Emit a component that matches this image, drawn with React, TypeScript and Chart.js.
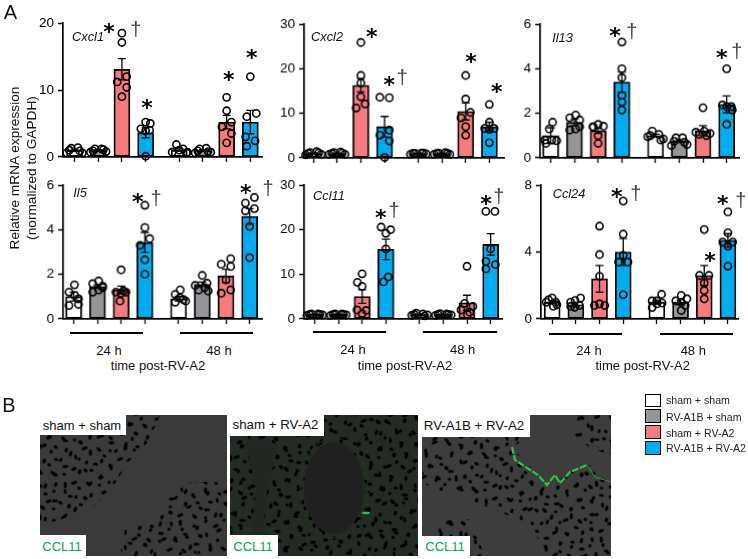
import React, { useEffect, useRef } from "react";
import { Chart, registerables } from "chart.js";

Chart.register(...registerables);

const FONT = "'Liberation Sans', Arial, sans-serif";
const barColors = ["#ffffff", "#939598", "#f47c7e", "#00aeef", "#ffffff", "#939598", "#f47c7e", "#00aeef"];
const barPositions = [0, 1, 2, 3, 4.42, 5.42, 6.42, 7.42];
const swarm = [-0.33, -0.14, 0.14, 0.33, -0.22, 0.22];
const swarmB = [-0.3, 0.3, 0, -0.12, 0.16, 0.34];

const cxcl1Means = [1.0, 1.0, 13.1, 3.6, 1.0, 0.95, 5.2, 5.2];
const cxcl1Errors = [0.15, 0.1, 1.6, 0.75, 0.18, 0.12, 1.0, 1.75];
const cxcl1Points = [
  [0.6, 1.3, 1.4, 0.6, 1.0, 0.9], [0.7, 1.2, 1.2, 0.8, 0.9, 1.1], [18.5, 17.1, 12.0, 11.2, 10.4, 9.0], [5.2, 5.0, 4.2, 4.0, 3.9, 0.1],
  [0.7, 0.6, 1.0, 1.85, 1.2, 0.7], [0.6, 1.2, 1.3, 0.7, 0.9, 0.8], [8.9, 6.9, 5.2, 4.5, 3.5, 2.1], [12.0, 6.5, 6.0, 3.0, 2.4, 1.6],
];
const cxcl1Offsets = [swarm, swarm, [0, 0, 0.2, -0.2, 0.2, 0], [0, 0.2, -0.2, 0.17, 0, 0], swarmB, swarm, [0, 0, 0.2, -0.2, 0.2, 0], [0, 0.25, -0.15, -0.2, 0.2, -0.15]];

const cxcl2Means = [1.0, 1.0, 16.3, 7.0, 1.0, 1.0, 10.4, 6.9];
const cxcl2Errors = [0.12, 0.1, 1.5, 2.3, 0.05, 0.05, 1.9, 1.1];
const cxcl2Points = [
  [0.7, 1.2, 1.4, 0.8, 1.0, 1.1], [0.8, 1.2, 1.3, 0.8, 1.0, 1.1], [25.9, 18.5, 16.8, 13.7, 12.1, 11.2], [13.6, 13.5, 6.2, 5.1, 3.8, 0.1],
  [0.8, 1.0, 1.1, 0.9, 1.0, 1.1], [0.8, 1.1, 1.2, 0.8, 1.0, 1.0], [18.5, 13.2, 10.2, 9.0, 7.0, 5.1], [12.0, 8.0, 6.6, 6.6, 6.4, 3.4],
];
const cxcl2Offsets = [swarm, swarm, [0, 0, 0, 0, 0.18, -0.2], [-0.2, 0.2, 0.2, -0.2, 0.2, 0], swarm, swarm, [0, 0, 0.2, -0.2, 0, 0], [0, 0, -0.2, 0.2, 0, 0]];

const il13Means = [1.0, 1.6, 1.22, 3.4, 1.0, 0.75, 1.22, 2.4];
const il13Errors = [0.35, 0.15, 0.12, 0.45, 0.06, 0.06, 0.23, 0.38];
const il13Points = [
  [1.6, 1.3, 0.65, 0.8, 0.8, 0.77], [1.8, 1.92, 1.7, 1.25, 1.3, 1.4], [1.4, 1.5, 1.42, 1.0, 0.65, 1.38], [5.2, 4.0, 3.6, 2.8, 2.5, 2.15],
  [0.95, 1.2, 1.05, 0.85, 1.0, 0.8], [0.55, 0.9, 0.9, 0.6, 0.75, 0.7], [2.25, 1.15, 1.1, 1.0, 1.05, 1.2], [4.0, 2.37, 2.3, 2.3, 2.15, 1.5],
];
const il13Offsets = [[0.08, -0.06, -0.2, -0.25, 0.05, 0.25], [-0.2, 0.05, 0.22, -0.2, 0.05, 0.22], [-0.22, 0, 0.22, 0, 0, -0.2], [0, 0, 0, 0, 0, 0], swarm, swarm, [0, -0.3, 0.3, 0.15, -0.15, 0.05], [0, -0.18, 0, 0.2, 0.24, 0]];

const il5Means = [1.0, 1.45, 1.3, 3.43, 0.9, 1.55, 1.93, 4.6];
const il5Errors = [0.2, 0.08, 0.17, 0.45, 0.1, 0.1, 0.3, 0.35];
const il5Points = [
  [1.53, 1.2, 1.05, 0.6, 0.65, 0.9], [1.7, 1.58, 1.47, 1.2, 1.3, 1.4], [2.2, 1.2, 1.2, 1.15, 0.8, 1.25], [5.1, 4.1, 3.6, 3.3, 2.65, 2.0],
  [1.3, 1.1, 0.87, 0.75, 0.95, 0.8], [1.95, 1.5, 1.6, 1.3, 1.4, 1.25], [2.7, 2.45, 2.35, 1.75, 1.3, 1.15], [5.45, 5.2, 4.85, 4.95, 4.15, 2.75],
];
const il5Offsets = [[0.03, -0.2, 0.04, -0.2, 0.2, 0.2], [0.05, -0.2, 0.22, -0.2, 0.05, 0.22], [0, -0.22, 0.2, 0, -0.05, 0.1], [0, 0, 0.2, -0.2, 0, 0], [0.07, -0.14, 0.2, -0.14, 0.05, 0.3], [0, -0.3, 0.2, -0.15, 0.1, 0.25], [0.2, -0.2, 0.2, 0, 0.2, -0.2], [0.2, -0.18, -0.18, 0.2, 0, 0]];

const ccl11Means = [1.0, 1.0, 5.0, 15.6, 1.0, 1.0, 3.6, 16.7];
const ccl11Errors = [0.05, 0.05, 1.5, 2.3, 0.1, 0.05, 1.7, 2.4];
const ccl11Points = [
  [0.8, 1.1, 1.1, 0.9, 1.0, 1.0], [0.8, 1.1, 1.1, 0.9, 1.0, 1.0], [10.1, 8.2, 7.3, 2.0, 1.9, 1.2], [20.6, 20.0, 19.2, 15.7, 9.4, 8.3],
  [0.8, 1.3, 1.1, 0.9, 1.0, 0.7], [0.8, 1.2, 1.1, 0.9, 1.0, 1.0], [11.8, 3.5, 2.8, 2.0, 1.5, 1.0], [24.1, 24.1, 15.7, 12.9, 12.2, 11.2],
];
const ccl11Offsets = [swarm, swarm, [0, -0.2, 0, -0.22, 0.17, 0], [-0.2, 0.2, 0, 0, 0.1, -0.1], swarm, swarm, [0, -0.1, 0.25, -0.25, 0.12, 0.02], [-0.2, 0.18, 0, -0.2, 0.2, -0.2]];

const ccl24Means = [1.0, 0.85, 2.4, 4.0, 1.0, 1.0, 2.6, 4.7];
const ccl24Errors = [0.1, 0.14, 0.8, 0.8, 0.1, 0.15, 0.6, 0.4];
const ccl24Points = [
  [1.25, 1.15, 1.0, 1.0, 0.85, 0.75], [1.25, 1.1, 1.0, 0.75, 0.8, 0.7], [5.55, 3.85, 2.55, 0.8, 0.9, 0.8], [7.05, 5.07, 3.8, 3.4, 3.4, 1.45],
  [1.47, 1.08, 1.08, 0.95, 0.68, 0.9], [1.4, 1.2, 1.08, 1.0, 0.8, 0.5], [5.35, 2.6, 2.6, 2.15, 1.7, 1.2], [6.4, 5.15, 4.6, 4.6, 4.35, 3.15],
];
const ccl24Offsets = [[0, -0.15, -0.25, 0.15, 0.2, 0.05], [0.2, -0.03, -0.22, -0.22, 0.15, -0.05], [0, 0, 0, -0.22, 0, 0.22], [0, 0, 0, -0.2, 0.2, 0], [0.2, -0.2, 0, 0.22, -0.2, 0], [0.03, 0.27, -0.2, 0.03, 0.2, 0.03], [0, -0.2, 0.2, 0, 0, 0], [0, 0, -0.22, 0.2, 0, 0]];

const panels = [
  { name: "Cxcl1", ymax: 20, step: 10, axisX: 63, top: 22.7, zero: 156.7, first: 74.7, end: 265, means: cxcl1Means, errors: cxcl1Errors, points: cxcl1Points, offsets: cxcl1Offsets },
  { name: "Cxcl2", ymax: 30, step: 10, axisX: 304.3, top: 24, zero: 157.7, first: 313.7, end: 507, means: cxcl2Means, errors: cxcl2Errors, points: cxcl2Points, offsets: cxcl2Offsets },
  { name: "Il13", ymax: 6, step: 2, axisX: 540, top: 24, zero: 157.7, first: 550.7, end: 741.7, means: il13Means, errors: il13Errors, points: il13Points, offsets: il13Offsets },
  { name: "Il5", ymax: 6, step: 2, axisX: 63.3, top: 185.3, zero: 318.7, first: 74, end: 265, means: il5Means, errors: il5Errors, points: il5Points, offsets: il5Offsets },
  { name: "Ccl11", ymax: 30, step: 10, axisX: 304.3, top: 185.3, zero: 319.3, first: 315, end: 505, means: ccl11Means, errors: ccl11Errors, points: ccl11Points, offsets: ccl11Offsets },
  { name: "Ccl24", ymax: 8, step: 4, axisX: 541, top: 185, zero: 318.7, first: 552.3, end: 741, means: ccl24Means, errors: ccl24Errors, points: ccl24Points, offsets: ccl24Offsets },
];

const geneLabels = [
  ["Cxcl1", 88, 37], ["Cxcl2", 327, 37], ["Il13", 562.5, 38],
  ["Il5", 80, 193], ["Ccl11", 329, 196], ["Ccl24", 569, 194],
] as const;

const stars = [[109, 27], [147, 103], [228.7, 75], [251.7, 53], [371.7, 32], [389.3, 80], [471, 57], [496.7, 87], [615, 31], [721.7, 53], [137.7, 196.7], [245.7, 188], [380.7, 212.7], [486, 199], [616.7, 191.7], [722.7, 199], [710, 256]];
const daggers = [[135.7, 31], [402.3, 79], [631.7, 33], [736.7, 53], [156, 200], [268, 190], [394, 211.7], [498.7, 197.7], [635.7, 195], [740.7, 202]];

const timeBars = [[70, 142.7, 333], [180, 253, 333], [313.3, 386, 332], [423.3, 496.7, 332], [549.3, 622.3, 334], [660, 732.7, 334]];
const timeLabels = [
  ["24 h", 109, 350], ["48 h", 219, 350], ["time post-RV-A2", 158, 365],
  ["24 h", 353, 349], ["48 h", 462.7, 349], ["time post-RV-A2", 405, 364.7],
  ["24 h", 589, 350], ["48 h", 693.3, 350], ["time post-RV-A2", 642.7, 365],
] as const;

const legendItems = [
  ["sham + sham", "#ffffff", 393.5, 400],
  ["RV-A1B + sham", "#939598", 409, 417],
  ["sham + RV-A2", "#f47c7e", 425, 432.7],
  ["RV-A1B + RV-A2", "#00aeef", 441, 448],
] as const;

const errorBars = {
  id: "errorBars",
  afterDatasetsDraw(chart: any, _a: any, opts: any) {
    const { ctx, scales } = chart;
    ctx.save();
    ctx.strokeStyle = "#000";
    ctx.lineWidth = 1.3;
    barPositions.forEach((p, i) => {
      const x = scales.x.getPixelForValue(p);
      const hi = scales.y.getPixelForValue(opts.means[i] + opts.errors[i]);
      const lo = scales.y.getPixelForValue(opts.means[i] - opts.errors[i]);
      ctx.beginPath();
      ctx.moveTo(x, hi); ctx.lineTo(x, lo);
      ctx.moveTo(x - 4, hi); ctx.lineTo(x + 4, hi);
      ctx.moveTo(x - 4, lo); ctx.lineTo(x + 4, lo);
      ctx.stroke();
    });
    ctx.restore();
  },
};

function Panel({ p }: { p: (typeof panels)[number] }) {
  const ref = useRef<HTMLCanvasElement>(null);
  const left = p.axisX - 45;
  const top = p.top - 12;
  const width = p.end + 3 - left;
  const height = p.zero + 12 - top;
  useEffect(() => {
    const scatter: any[] = [];
    p.points.forEach((vals, g) => vals.forEach((v, k) => scatter.push({ x: barPositions[g] + p.offsets[g][k], y: v })));
    const chart = new Chart(ref.current!, {
      type: "bar",
      data: {
        datasets: [
          {
            type: "scatter",
            data: scatter,
            order: 1,
            pointRadius: 3.6,
            pointBorderWidth: 1.6,
            pointBackgroundColor: "rgba(0,0,0,0)",
            pointBorderColor: "#000",
            showLine: false,
            clip: false,
          } as any,
          {
            type: "bar",
            data: p.means.map((m, i) => ({ x: barPositions[i], y: m })),
            order: 2,
            backgroundColor: barColors,
            borderColor: "#000",
            borderWidth: 1.8,
            borderSkipped: false,
            barThickness: 16,
          } as any,
        ],
      },
      options: {
        animation: false,
        responsive: false,
        events: [],
        layout: { padding: { top: p.top - top, right: width - (p.end - left), left: 0, bottom: 0 } },
        plugins: { legend: { display: false }, tooltip: { enabled: false }, errorBars: { means: p.means, errors: p.errors } } as any,
        scales: {
          x: {
            type: "linear",
            offset: false,
            min: (p.axisX - p.first) / 24,
            max: (p.end - p.first) / 24,
            border: { color: "#000", width: 1.7 },
            grid: { display: true, offset: false, drawOnChartArea: false, drawTicks: true, tickLength: 5, tickWidth: 1.3, tickColor: "#000" } as any,
            ticks: { display: false },
            afterBuildTicks: (s: any) => { s.ticks = barPositions.map((v) => ({ value: v })); },
            afterFit: (s: any) => { s.height = height - (p.zero - top); },
          },
          y: {
            type: "linear",
            min: 0,
            max: p.ymax,
            border: { color: "#000", width: 1.7 },
            grid: { display: true, drawOnChartArea: false, drawTicks: true, tickLength: 5, tickWidth: 1.5, tickColor: "#000" } as any,
            ticks: { stepSize: p.step, color: "#000", padding: 4, font: { family: FONT, size: 13.5 } },
            afterFit: (s: any) => { s.width = p.axisX - left; },
          },
        },
      },
      plugins: [errorBars],
    } as any);
    return () => chart.destroy();
  }, []);
  return <canvas ref={ref} width={width} height={height} style={{ position: "absolute", left, top, width, height, display: "block" }} />;
}

function Txt({ x, y, size, children, style, rotate }: any) {
  return (
    <span
      style={{
        position: "absolute", left: x, top: y, fontFamily: FONT, fontSize: size, lineHeight: 1, whiteSpace: "nowrap", color: "#111",
        transform: `translate(-50%,-50%)${rotate ? ` rotate(${rotate}deg)` : ""}`, ...style,
      }}
    >
      {children}
    </span>
  );
}

function Blobs({ id, w, h, angle }: { id: string; w: number; h: number; angle: number }) {
  return (
    <pattern id={id} width={w} height={h} patternUnits="userSpaceOnUse" patternTransform={`rotate(${angle})`}>
      <ellipse cx="4" cy="5" rx="3" ry="1.6" fill="#000" transform="rotate(25 4 5)" />
      <ellipse cx="15" cy="3" rx="1.7" ry="1.4" fill="#000" />
      <ellipse cx="27" cy="8" rx="3.2" ry="1.5" fill="#000" transform="rotate(-40 27 8)" />
      <ellipse cx="10" cy="15" rx="1.6" ry="2.6" fill="#000" />
      <ellipse cx="21" cy="19" rx="2.6" ry="1.4" fill="#000" transform="rotate(60 21 19)" />
      <ellipse cx="33" cy="21" rx="1.6" ry="1.9" fill="#000" />
      <ellipse cx="3" cy="27" rx="2.2" ry="1.5" fill="#000" />
      <ellipse cx="14" cy="31" rx="3" ry="1.5" fill="#000" transform="rotate(-20 14 31)" />
      <ellipse cx="29" cy="32" rx="1.9" ry="2.4" fill="#000" />
    </pattern>
  );
}

function Tissue({ d }: { d: string }) {
  return (
    <>
      <path d={d} fill="url(#cellsA)" />
      <path d={d} fill="url(#cellsB)" />
    </>
  );
}

function Micrographs() {
  return (
    <svg width={748} height={559} style={{ position: "absolute", left: 0, top: 0 }}>
      <defs>
        <Blobs id="cellsA" w={37} h={36} angle={17} />
        <Blobs id="cellsB" w={41} h={38} angle={-52} />
        <filter id="soft"><feGaussianBlur stdDeviation="0.6" /></filter>
      </defs>
      {/* first image */}
      <rect x={40} y={415} width={187} height={141} fill="#3a3a3a" />
      <Tissue d="M40 430 H126 V415 H160 L148 442 L128 462 L116 482 L96 505 L60 520 L40 525 Z" />
      <Tissue d="M227 482 L190 482 L170 495 L162 515 L125 530 L120 556 H227 Z" />
      {/* second image */}
      <rect x={230} y={415} width={188} height={141} fill="#242a24" />
      <Tissue d="M230 415 H418 V556 H230 Z" />
      <path d="M246 442 Q270 438 278 446 L265 500 L262 556 L250 556 L256 490 Z" fill="#242624" />
      <ellipse cx={334} cy={488} rx={30} ry={46} fill="#202020" />
      <ellipse cx={334} cy={488} rx={34} ry={50} fill="none" stroke="#1c3a1c" strokeWidth={1} />
      <ellipse cx={366} cy={513} rx={4} ry={1.2} fill="#22c35a" filter="url(#soft)" />
      {/* third image */}
      <rect x={422} y={415} width={189} height={141} fill="#3d3d3d" />
      <Tissue d="M422 437 H530 L512 447 L538 475 L550 487 L570 472 L590 465 L611 475 V556 H545 L532 525 L465 498 L432 488 L422 482 Z" />
      <Tissue d="M575 415 H611 V455 L590 448 L575 436 Z" />
      <Tissue d="M422 540 L450 512 L470 520 L485 556 H422 Z" />
      <path d="M512 447 L515 460 L538 475 L547 485 L555 475 L560 483 L570 472 L587 465" fill="none" stroke="#2fc24a" strokeWidth={2.2} strokeDasharray="7 1.5" filter="url(#soft)" />
      <path d="M587 465 L595 477 L611 482" fill="none" stroke="#2a8f3a" strokeWidth={1.2} filter="url(#soft)" />
      <path d="M532 508 L532 528" fill="none" stroke="#2fa845" strokeWidth={1.6} filter="url(#soft)" />
      {/* label boxes */}
      <rect x={40} y={415} width={86} height={20} fill="#fff" />
      <rect x={40} y={535} width={46} height={21} fill="#fff" />
      <rect x={230} y={415} width={94} height={21} fill="#fff" />
      <rect x={230} y={535} width={48} height={21} fill="#fff" />
      <rect x={422} y={415} width={108} height={22} fill="#fff" />
      <rect x={422} y={536} width={48} height={20} fill="#fff" />
    </svg>
  );
}

export default function App() {
  return (
    <div style={{ position: "absolute", left: 0, top: 0, width: 748, height: 559, overflow: "hidden", background: "#fff" }}>
      <Micrographs />
      {panels.map((p) => <Panel key={p.name} p={p} />)}
      {timeBars.map(([a, b, y], i) => (
        <div key={i} style={{ position: "absolute", left: a, top: y - 1, width: b - a, height: 2, background: "#000" }} />
      ))}
      {timeLabels.map(([t, x, y], i) => <Txt key={i} x={x} y={y} size={13}>{t}</Txt>)}
      {geneLabels.map(([t, x, y]) => <Txt key={t} x={x} y={y} size={12.8} style={{ fontStyle: "italic" }}>{t}</Txt>)}
      {stars.map(([x, y], i) => (
        <Txt key={i} x={x} y={y + 5} size={22} style={{ fontFamily: "'DejaVu Sans'", fontWeight: 700, color: "#000" }}>*</Txt>
      ))}
      {daggers.map(([x, y], i) => <Txt key={i} x={x} y={y - 2} size={20} style={{ color: "#444" }}>†</Txt>)}
      <Txt x={15} y={168} size={13.7} rotate={-90}>Relative mRNA expression</Txt>
      <Txt x={32} y={168} size={13.7} rotate={-90}>(normalized to GAPDH)</Txt>
      <Txt x={10.5} y={12} size={20}>A</Txt>
      <Txt x={9} y={405} size={20}>B</Txt>
      <Txt x={82} y={425} size={13}>sham + sham</Txt>
      <Txt x={275.5} y={425} size={13.3}>sham + RV-A2</Txt>
      <Txt x={474} y={426} size={13.3}>RV-A1B + RV-A2</Txt>
      <Txt x={62} y={545.5} size={13} style={{ color: "#00a651" }}>CCL11</Txt>
      <Txt x={253} y={545.5} size={13} style={{ color: "#00a651" }}>CCL11</Txt>
      <Txt x={445} y={545.5} size={13} style={{ color: "#00a651" }}>CCL11</Txt>
      {legendItems.map(([t, c, boxY, textY]) => (
        <React.Fragment key={t}>
          <div style={{ position: "absolute", left: 644.5, top: boxY, width: 16, height: 13.5, boxSizing: "border-box", border: "1.8px solid #000", background: c }} />
          <span style={{ position: "absolute", left: 666, top: textY, transform: "translateY(-50%)", fontFamily: FONT, fontSize: 10.6, lineHeight: 1, whiteSpace: "nowrap", color: "#222" }}>{t}</span>
        </React.Fragment>
      ))}
    </div>
  );
}
